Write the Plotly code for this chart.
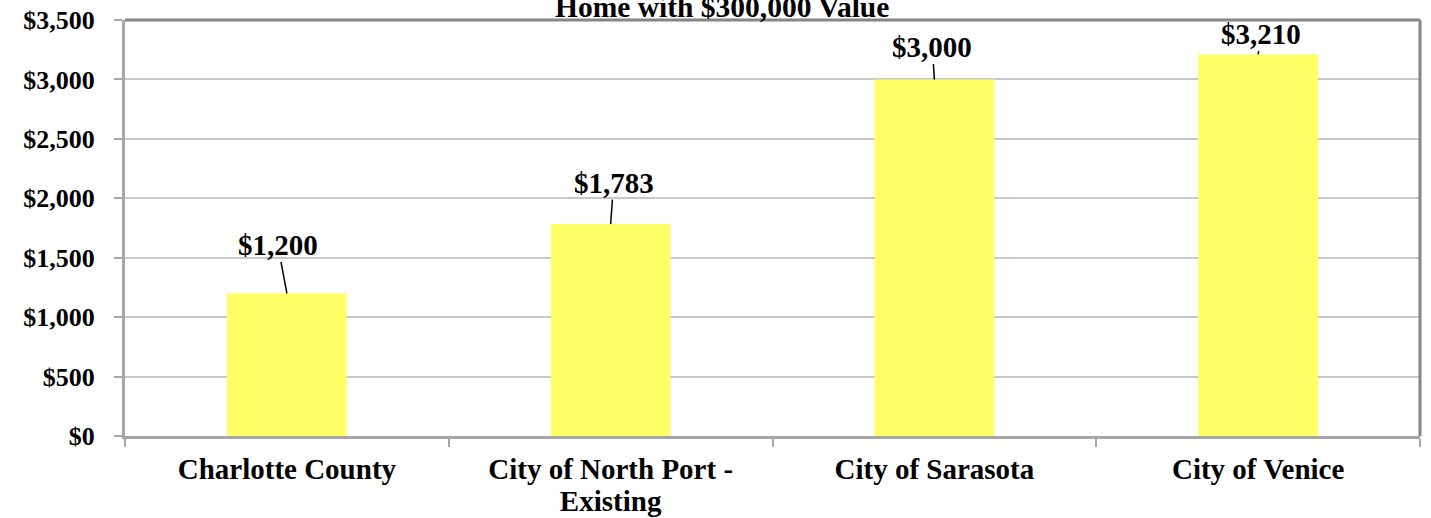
import plotly.graph_objects as go

# ---- data ----
categories = ["Charlotte County", "City of North Port -<br>Existing", "City of Sarasota", "City of Venice"]
values = [1200, 1783, 3000, 3210]
y_tick_values = [0, 500, 1000, 1500, 2000, 2500, 3000, 3500]
y_tick_labels = ["$0", "$500", "$1,000", "$1,500", "$2,000", "$2,500", "$3,000", "$3,500"]
title_text = "Home with $300,000 Value"

# label offsets (pixels) for the data-label leader lines
label_dx = [-9, 3, -2, 3]
label_dy = [-48, -41, -32, -20]

FONT = "Times New Roman, Liberation Serif, serif"


def styled(label, size=29):
    return "<br>".join(f"<span style='font-size:{size}px'><b>{part}</b></span>"
                       for part in label.split("<br>"))


fig = go.Figure()
fig.add_trace(go.Bar(
    x=categories, y=values,
    marker=dict(color="#FFFF66", line=dict(width=0)),
    width=0.37,
))

for c, v, dx, dy in zip(categories, values, label_dx, label_dy):
    fig.add_annotation(
        x=c, y=v, xref="x", yref="y",
        text=f"<b>${v:,.0f}</b>",
        showarrow=True, arrowhead=0, arrowwidth=1.5, arrowcolor="black",
        ax=dx, ay=dy, standoff=0, startstandoff=0,
        font=dict(family=FONT, size=29, color="black"),
        borderpad=0,
    )

fig.add_annotation(
    x=0.461, y=1, xref="paper", yref="paper", yanchor="bottom", yshift=-5,
    text=f"<b>{title_text}</b>", showarrow=False,
    font=dict(family=FONT, size=29.5, color="black"),
)

# top and right border
fig.add_shape(type="line", xref="paper", yref="paper", x0=0, x1=1, y0=1, y1=1,
              line=dict(color="#868686", width=3))
fig.add_shape(type="line", xref="paper", yref="paper", x0=1, x1=1, y0=0, y1=1,
              line=dict(color="#868686", width=3))

fig.update_layout(
    width=1431, height=518,
    margin=dict(l=125, r=11, t=20, b=82, autoexpand=False),
    plot_bgcolor="white", paper_bgcolor="white",
    showlegend=False,
    font=dict(family=FONT, color="black"),
    xaxis=dict(
        automargin=False,
        tickvals=categories,
        ticktext=[styled(c) for c in categories],
        showline=True, linecolor="#A6A6A6", linewidth=3,
        ticks="outside", tickson="boundaries", ticklen=8, tickwidth=2, tickcolor="#A6A6A6",
        tickfont=dict(family=FONT, size=24.5, color="black"),
        showgrid=False, zeroline=False,
        ticklabelstandoff=11,
        ticklabeloverflow="allow",
    ),
    yaxis=dict(
        automargin=False,
        range=[0, 3500],
        tickvals=y_tick_values,
        ticktext=[f"<b>{t}</b>" for t in y_tick_labels],
        showline=True, linecolor="#A6A6A6", linewidth=3,
        ticks="outside", ticklen=8, tickwidth=2, tickcolor="#A6A6A6",
        tickfont=dict(family=FONT, size=26, color="black"),
        showgrid=True, gridcolor="#C8C8C8", gridwidth=1.5,
        zeroline=False,
        ticklabelstandoff=14,
        ticklabeloverflow="allow",
    ),
)

fig.write_html("out.html", config={"displayModeBar": False},
               post_script="document.body.style.margin='0';")
